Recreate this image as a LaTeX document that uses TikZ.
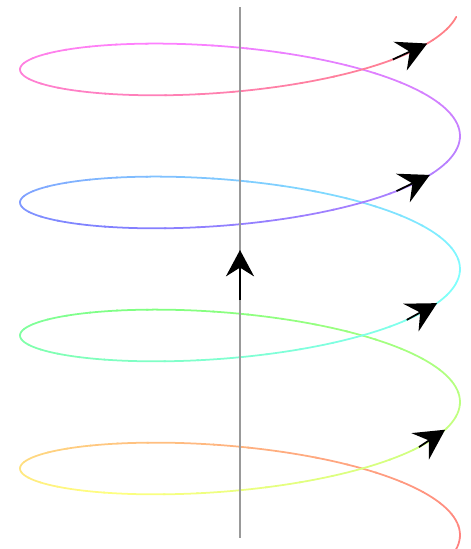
\documentclass[tikz,border=0pt]{standalone}
\usepackage{xcolor}
\usetikzlibrary{arrows.meta}

% screen position of the helix at angle #1 (radians)
\newcommand{\helixx}[1]{240+220*cos((#1) r)}
\newcommand{\helixy}[1]{535-21.17*(#1)-55*sin((#1) r)}

\begin{document}
\begin{tikzpicture}[
  x=0.02cm, y=-0.02cm,
  axisline/.style={line width=1.5pt, black!40},
  helixseg/.style={line width=1pt, line cap=round},
  turnarrow/.style={-{Stealth[length=17pt, width=18pt, inset=6pt]}, line width=1pt, black},
  upflow/.style={-{Stealth[length=15pt, width=16pt, inset=5pt]}, line width=1.2pt, black}
]
\useasboundingbox (0,0) rectangle (471,549);

% helix, hue running once round the colour circle
\foreach \i in {0,...,159} {
  \pgfmathsetmacro\ta{-0.2+\i*0.15714}
  \pgfmathsetmacro\tb{\ta+0.165}
  \pgfmathsetmacro\hh{\i/160}
  \definecolor{segcol}{hsb}{\hh,0.5,1}
  \draw[helixseg, segcol, domain=\ta:\tb, samples=5, variable=\t]
    plot ({\helixx{\t}}, {\helixy{\t}});
}

\coordinate (axtop) at (240,7);
\coordinate (axbot) at (240,538);
\draw[axisline] (axtop) -- (axbot);

% direction marks on the helix
\foreach \tp [count=\k] in {5.913,12.106,18.32,24.58} {
  \coordinate (tail\k) at ({\helixx{\tp-0.25}},{\helixy{\tp-0.25}});
  \coordinate (tip\k) at ({\helixx{\tp}},{\helixy{\tp}});
  \draw[turnarrow] (tail\k) -- (tip\k);
}

\coordinate (upbase) at (240,300);
\coordinate (uptip) at (240,250);
\draw[upflow] (upbase) -- (uptip);

\end{tikzpicture}
\end{document}
